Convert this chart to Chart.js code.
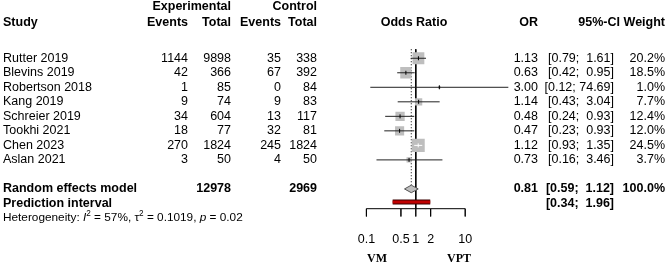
<!DOCTYPE html>
<html>
<head>
<meta charset="utf-8">
<script src="https://cdn.jsdelivr.net/npm/chart.js@4.4.1/dist/chart.umd.min.js"></script>
<style>
  body { margin: 0; background: #fff; }
</style>
</head>
<body>
<canvas id="forest" width="669" height="266"></canvas>
<script>
// study data
const studies = ['Rutter 2019', 'Blevins 2019', 'Robertson 2018', 'Kang 2019', 'Schreier 2019', 'Tookhi 2021', 'Chen 2023', 'Aslan 2021'];
const expEvents = [1144, 42, 1, 9, 34, 18, 270, 3];
const expTotal = [9898, 366, 85, 74, 604, 77, 1824, 50];
const ctrlEvents = [35, 67, 0, 9, 13, 32, 245, 4];
const ctrlTotal = [338, 392, 84, 83, 117, 81, 1824, 50];
const oddsRatio = [1.13, 0.63, 3.00, 1.14, 0.48, 0.47, 1.12, 0.73];
const ciLower = [0.79, 0.42, 0.12, 0.43, 0.24, 0.23, 0.93, 0.16];
const ciUpper = [1.61, 0.95, 74.69, 3.04, 0.93, 0.93, 1.35, 3.46];
const weights = [20.2, 18.5, 1.0, 7.7, 12.4, 12.0, 24.5, 3.7];

// pooled result
const pooled = [0.81, 0.59, 1.12];      // OR, lower, upper
const predInterval = [0.34, 1.96];
const totals = [12978, 2969];
const hetI2 = '57%';
const hetTau2 = '0.1019';
const hetP = '0.02';

const xTicks = [0.1, 0.5, 1, 2, 10];
const xTickLabels = ['0.1', '0.5', '1', '2', '10'];
const sideLabels = ['VM', 'VPT'];

// rows (y units): studies 0..7, pooled 9
const POOL_ROW = 9, PRED_ROW = 9.9, AXIS_ROW = 10.36, TICK_ROW = 10.9, TOP_ROW = -0.62;
const PX_DECADE = 49.4;

const FONT = '"Liberation Sans", Arial, sans-serif';

// square side in px from weight, CI drawn white if it sits inside the square
const sides = weights.map(w => 2.63 * Math.sqrt(w));
const inside = oddsRatio.map((o, i) => {
  const half = sides[i] / 2 / PX_DECADE;
  return Math.log10(ciLower[i]) >= Math.log10(o) - half && Math.log10(ciUpper[i]) <= Math.log10(o) + half;
});

const datasets = [];

// reference lines
datasets.push({ data: [{x: 1, y: TOP_ROW}, {x: 1, y: AXIS_ROW}], showLine: true, borderColor: '#000', borderWidth: 1, pointRadius: 0, order: 6 });
datasets.push({ data: [{x: pooled[0], y: TOP_ROW}, {x: pooled[0], y: POOL_ROW - 0.28}], showLine: true, borderColor: '#000', borderWidth: 1, borderDash: [1, 2], pointRadius: 0, order: 6 });

// squares
datasets.push({
  data: oddsRatio.map((o, i) => ({x: o, y: i})),
  pointStyle: 'rect',
  pointRadius: sides.map(s => s / Math.SQRT2),
  backgroundColor: '#bebebe', borderWidth: 0, order: 5
});

// confidence intervals
studies.forEach((s, i) => {
  datasets.push({
    data: [{x: ciLower[i], y: i}, {x: ciUpper[i], y: i}],
    showLine: true, borderColor: inside[i] ? '#fff' : '#222', borderWidth: 1, pointRadius: 0, order: 3
  });
});

// point estimate marks
datasets.push({
  data: oddsRatio.map((o, i) => ({x: o, y: i})),
  pointStyle: 'line', rotation: 90, pointRadius: 2,
  borderColor: inside.map(v => v ? '#fff' : '#000'), borderWidth: 1, order: 2
});

// diamond
datasets.push({
  data: [
    {x: pooled[1], y: POOL_ROW}, {x: pooled[0], y: POOL_ROW - 0.26},
    {x: pooled[2], y: POOL_ROW}, {x: pooled[0], y: POOL_ROW + 0.26},
    {x: pooled[1], y: POOL_ROW}
  ],
  showLine: true, fill: 'shape', backgroundColor: '#bebebe', borderColor: '#555', borderWidth: 1, pointRadius: 0, tension: 0, order: 2
});

// prediction interval
datasets.push({ data: [{x: predInterval[0], y: PRED_ROW}, {x: predInterval[1], y: PRED_ROW}], showLine: true, borderColor: '#3a0000', borderWidth: 5, pointRadius: 0, order: 4 });
datasets.push({ data: [{x: predInterval[0], y: PRED_ROW}, {x: predInterval[1], y: PRED_ROW}], showLine: true, borderColor: '#c00000', borderWidth: 3, pointRadius: 0, order: 3 });

// axis with ticks as one path
const comb = [];
xTicks.forEach((t, i) => {
  comb.push({x: t, y: AXIS_ROW});
  comb.push({x: t, y: TICK_ROW});
  comb.push({x: t, y: AXIS_ROW});
});
datasets.push({ data: comb, showLine: true, borderColor: '#000', borderWidth: 1, pointRadius: 0, order: 6 });

const fmtCI = (lo, hi) => '[' + lo.toFixed(2) + '; ' + hi.toFixed(2).padStart(5, ' ') + ']';

const textPlugin = {
  id: 'forestText',
  afterDraw(chart) {
    const ctx = chart.ctx;
    const ys = chart.scales.y, xs = chart.scales.x;
    const rowY = r => ys.getPixelForValue(r);
    const put = (txt, x, y, align, bold, size, family) => {
      ctx.font = (bold ? 'bold ' : '') + (size || 12.5) + 'px ' + (family || FONT);
      ctx.textAlign = align;
      ctx.fillText(txt, x, y);
    };
    ctx.save();
    ctx.fillStyle = '#000';
    ctx.textBaseline = 'middle';

    // headers
    put('Experimental', 231, 7, 'right', true);
    put('Control', 317, 7, 'right', true);
    put('Study', 3, 23, 'left', true);
    put('Events', 188, 23, 'right', true);
    put('Total', 231, 23, 'right', true);
    put('Events', 281, 23, 'right', true);
    put('Total', 317, 23, 'right', true);
    put('Odds Ratio', 414, 23, 'center', true);
    put('OR', 538, 23, 'right', true);
    put('95%-CI', 620, 23, 'right', true);
    put('Weight', 665, 23, 'right', true);

    studies.forEach((s, i) => {
      const y = rowY(i);
      put(s, 3, y, 'left');
      put(String(expEvents[i]), 188, y, 'right');
      put(String(expTotal[i]), 231, y, 'right');
      put(String(ctrlEvents[i]), 281, y, 'right');
      put(String(ctrlTotal[i]), 317, y, 'right');
      put(oddsRatio[i].toFixed(2), 538, y, 'right');
      put(fmtCI(ciLower[i], ciUpper[i]), 614, y, 'right');
      put(weights[i].toFixed(1) + '%', 665, y, 'right');
    });

    let y = rowY(POOL_ROW);
    put('Random effects model', 3, y, 'left', true);
    put(String(totals[0]), 231, y, 'right', true);
    put(String(totals[1]), 317, y, 'right', true);
    put(pooled[0].toFixed(2), 538, y, 'right', true);
    put(fmtCI(pooled[1], pooled[2]), 614, y, 'right', true);
    put('100.0%', 665, y, 'right', true);

    y = rowY(10);
    put('Prediction interval', 3, y, 'left', true);
    put(fmtCI(predInterval[0], predInterval[1]), 614, y, 'right', true);

    // heterogeneity line with italics and superscripts
    y = rowY(11);
    let x = 3;
    const seg = (txt, style, size, dy) => {
      ctx.font = (style || '') + ' ' + size + 'px ' + FONT;
      ctx.textAlign = 'left';
      ctx.fillText(txt, x, y + (dy || 0));
      x += ctx.measureText(txt).width;
    };
    seg('Heterogeneity: ', '', 11.8);
    seg('I', 'italic', 11.8);
    seg('2', '', 8.2, -4.5);
    seg(' = ' + hetI2 + ', ', '', 11.8);
    seg('\u03c4', '', 11.8);
    seg('2', '', 8.2, -4.5);
    seg(' = ' + hetTau2 + ', ', '', 11.8);
    seg('p', 'italic', 11.8);
    seg(' = ' + hetP, '', 11.8);

    // tick labels
    xTicks.forEach((t, i) => put(xTickLabels[i], xs.getPixelForValue(t), 240, 'center'));
    put(sideLabels[0], 377, 259, 'center', true, 12, '"Liberation Serif", "Times New Roman", serif');
    put(sideLabels[1], 459, 259, 'center', true, 12, '"Liberation Serif", "Times New Roman", serif');
    ctx.restore();
  }
};

new Chart(document.getElementById('forest'), {
  type: 'scatter',
  data: { datasets: datasets },
  options: {
    responsive: false,
    animation: false,
    layout: { padding: { left: 317, right: 154.4, top: 0, bottom: 0 } },
    plugins: { legend: { display: false }, tooltip: { enabled: false } },
    scales: {
      x: { type: 'logarithmic', min: 0.01, max: 100, display: false },
      y: { type: 'linear', min: -3.378, max: 13.673, reverse: true, display: false }
    }
  },
  plugins: [textPlugin]
});
</script>
</body>
</html>
